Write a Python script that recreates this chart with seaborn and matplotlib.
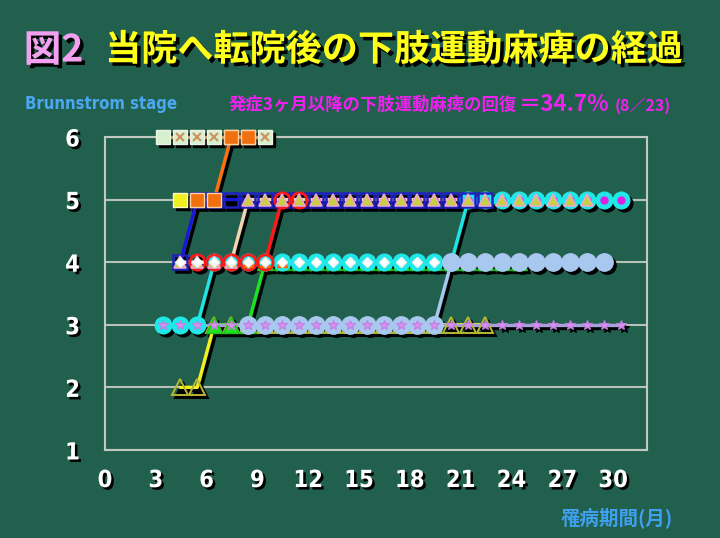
import numpy as np
import pandas as pd
import matplotlib
matplotlib.use('Agg')
import matplotlib.pyplot as plt
import matplotlib.patheffects as pe
from matplotlib.transforms import ScaledTranslation
import seaborn as sns

N = np.nan
BG = '#22604e'

# month of each observation (x axis)
MONTHS = [3.45, 4.45, 5.45, 6.45, 7.45, 8.45, 9.45, 10.45, 11.45, 12.45,
          13.45, 14.45, 15.45, 16.45, 17.45, 18.45, 19.45, 20.45, 21.45, 22.45,
          23.45, 24.45, 25.45, 26.45, 27.45, 28.45, 29.45, 30.45]

# Brunnstrom stage per patient, aligned with MONTHS
pale6  = [6, 6, 6, 6, 6, 6, 6, N, N, N, N, N, N, N, N, N, N, N, N, N, N, N, N, N, N, N, N, N]
cross6 = [N, 6, 6, 6, 6, 6, 6, N, N, N, N, N, N, N, N, N, N, N, N, N, N, N, N, N, N, N, N, N]
orange = [N, N, 5, 5, 6, 6, N, N, N, N, N, N, N, N, N, N, N, N, N, N, N, N, N, N, N, N, N, N]
ysq    = [N, 5, N, N, N, N, N, N, N, N, N, N, N, N, N, N, N, N, N, N, N, N, N, N, N, N, N, N]
navy   = [N, 4, 5, 5, 5, 5, 5, 5, 5, 5, 5, 5, 5, 5, 5, 5, 5, 5, 5, 5, N, N, N, N, N, N, N, N]
beige  = [N, 4, 4, 4, 4, 5, 5, 5, 5, 5, 5, 5, 5, 5, 5, 5, 5, 5, 5, 5, 5, 5, 5, 5, 5, 5, N, N]
red    = [N, N, 4, 4, 4, 4, 4, 5, 5, N, N, N, N, N, N, N, N, N, N, N, N, N, N, N, N, N, N, N]
green  = [N, N, N, 3, 3, 3, 4, 4, 4, 4, 4, 4, 4, 4, 4, 4, 4, 4, 4, 4, 4, 4, N, N, N, N, N, N]
yellow = [N, 2, 2, 3, 3, 3, 3, 3, 3, 3, 3, 3, 3, 3, 3, 3, 3, 3, 3, 3, N, N, N, N, N, N, N, N]
cyan   = [3, 3, 3, 4, 4, 4, 4, 4, 4, 4, 4, 4, 4, 4, 4, 4, 4, 4, 5, 5, 5, 5, 5, 5, 5, 5, 5, 5]
lblue  = [N, N, N, N, N, 3, 3, 3, 3, 3, 3, 3, 3, 3, 3, 3, 3, 4, 4, 4, 4, 4, 4, 4, 4, 4, 4, N]
purple = [3, 3, 3, 3, 3, 3, 3, 3, 3, 3, 3, 3, 3, 3, 3, 3, 3, 3, 3, 3, 3, 3, 3, 3, 3, 3, 3, 3]
white  = [N, 4, 4, 4, 4, 4, 4, 4, 4, 4, 4, 4, 4, 4, 4, 4, 4, N, N, N, N, N, N, N, N, N, N, N]
otri   = [N, N, N, N, N, 4, 4, 4, N, N, N, N, N, N, N, N, N, N, N, N, N, N, N, N, N, N, N, N]
mag    = [N, N, N, N, N, N, N, N, N, 5, 5, 5, 5, 5, 5, 5, 5, 5, 5, 5, 5, 5, 5, 5, 5, 5, 5, 5]

XTICKS = [0, 3, 6, 9, 12, 15, 18, 21, 24, 27, 30]
YTICKS = [1, 2, 3, 4, 5, 6]

# drawing order = bottom to top
SERIES = [('yellow', yellow), ('green', green), ('cyan', cyan), ('lblue', lblue),
          ('navy', navy), ('red', red), ('pale6', pale6), ('cross6', cross6),
          ('orange', orange), ('ysq', ysq), ('mag', mag), ('beige', beige),
          ('otri', otri), ('white', white), ('purple', purple)]

# line colour, marker, size, face, edge, edge width
STYLE = {
    'pale6':  ('#c89050', 's', 10, '#d4f0cc', '#eef4e4', 1.0),
    'cross6': (None, 'x', 6, 'none', '#d09060', 1.5),
    'orange': ('#ff7010', 's', 10, '#f07010', '#ffd0a0', 1.0),
    'ysq':    (None, 's', 10, '#f0f020', '#fff8c0', 1.0),
    'navy':   ('#1818d8', 's', 10, 'none', '#2020c0', 1.8),
    'beige':  ('#f4d4b0', '^', 8.5, '#c8d040', '#e8a8d0', 1.2),
    'red':    ('#ff1818', 'o', 11, 'none', '#ff1818', 2.0),
    'green':  ('#20e020', '^', 11, '#20e020', '#20c020', 1.0),
    'yellow': ('#f4f020', '^', 11, 'none', '#b8b830', 1.4),
    'cyan':   ('#20e4e4', 'o', 12, '#20e8e8', '#20e8e8', 1.0),
    'lblue':  ('#a8c8f0', 'o', 12.5, '#a8c8f0', '#a8c8f0', 1.0),
    'purple': ('#a8a0d8', '*', 7, '#d890f0', '#c080e0', 0.8),
    'white':  ('#e0e8e8', 'D', 5, '#ffffff', '#f0f0f0', 1.0),
    'otri':   (None, '^', 7, '#ff8010', '#ff6000', 1.0),
    'mag':    (None, 'o', 5, '#e020e0', '#e020e0', 1.0),
}

sns.set_theme(style='white')
plt.rcParams['font.family'] = ['Noto Sans CJK JP', 'DejaVu Sans']

fig = plt.figure(figsize=(7.2, 5.38), dpi=100, facecolor=BG)
ax = fig.add_axes([0.1458, 0.1636, 0.7528, 0.5818], facecolor=BG)
shadow = ax.transData + ScaledTranslation(0.03, -0.03, fig.dpi_scale_trans)

for i, (name, stages) in enumerate(SERIES):
    lc, mk, ms, mfc, mec, mew = STYLE[name]
    d = pd.DataFrame({'month': MONTHS, 'stage': stages}).dropna()
    if lc is not None and len(d) > 1:
        sns.lineplot(data=d, x='month', y='stage', ax=ax, color='black', lw=2.4,
                     sort=False, estimator=None, transform=shadow, zorder=2,
                     clip_on=False)
        sns.lineplot(data=d, x='month', y='stage', ax=ax, color=lc, lw=2.4,
                     sort=False, estimator=None, zorder=3 + i * 0.01, clip_on=False)
    if mk != 'x':
        ax.plot(d.month, d.stage, ls='none', marker=mk, ms=ms, mfc='black',
                mec='black', mew=mew, transform=shadow, zorder=2.5, clip_on=False)
    ax.plot(d.month, d.stage, ls='none', marker=mk, ms=ms, mfc=mfc, mec=mec,
            mew=mew, zorder=4 + i * 0.01, clip_on=False)

ax.set_xlim(0, 32)
ax.set_ylim(1, 6)
ax.set_xticks(XTICKS)
ax.set_yticks(YTICKS)
ax.set_xlabel('')
ax.set_ylabel('')
ax.yaxis.grid(True, color='#b8c0b8', lw=1.5)
ax.set_axisbelow(True)
for s in ax.spines.values():
    s.set_color('#c0c8c0')
    s.set_linewidth(1.5)
    s.set_zorder(1)
ax.tick_params(axis='x', direction='in', length=5, width=1, color='#c0c8c0', pad=13)
ax.tick_params(axis='y', length=0, pad=18)

txt_shadow = [pe.withSimplePatchShadow(offset=(1.8, -1.8), shadow_rgbFace='black', alpha=1)]
for lab in ax.get_xticklabels() + ax.get_yticklabels():
    lab.set_family('DejaVu Sans')
    lab.set_fontstretch('condensed')
    lab.set_fontweight('bold')
    lab.set_fontsize(17)
    lab.set_color('white')
    lab.set_path_effects(txt_shadow)

title_shadow = [pe.withSimplePatchShadow(offset=(2.5, -2.5), shadow_rgbFace='black', alpha=1)]
fig.text(0.033, 0.907, '図2', color='#f4a0f0', fontsize=27, weight='bold',
         va='center', path_effects=title_shadow)
fig.text(0.146, 0.907, '当院へ転院後の下肢運動麻痺の経過', color='#ffff1a', fontsize=26,
         weight='bold', va='center', path_effects=title_shadow)

fig.text(0.035, 0.806, 'Brunnstrom stage', color='#4aa8f0', fontsize=12, weight='bold',
         va='center', family='DejaVu Sans', fontstretch='condensed')
fig.text(0.318, 0.806, '発症3ヶ月以降の下肢運動麻痺の回復', color='#f020f0', fontsize=12.5,
         weight='bold', va='center')
fig.text(0.721, 0.806, '＝34.7%', color='#f020f0', fontsize=16, weight='bold', va='center')
fig.text(0.854, 0.804, '(8／23)', color='#f020f0', fontsize=11.5, weight='bold', va='center')

fig.text(0.778, 0.037, '罹病期間(月)', color='#40a0f0', fontsize=14, weight='bold', va='center')

fig.savefig('out.png', dpi=100, facecolor=BG)
